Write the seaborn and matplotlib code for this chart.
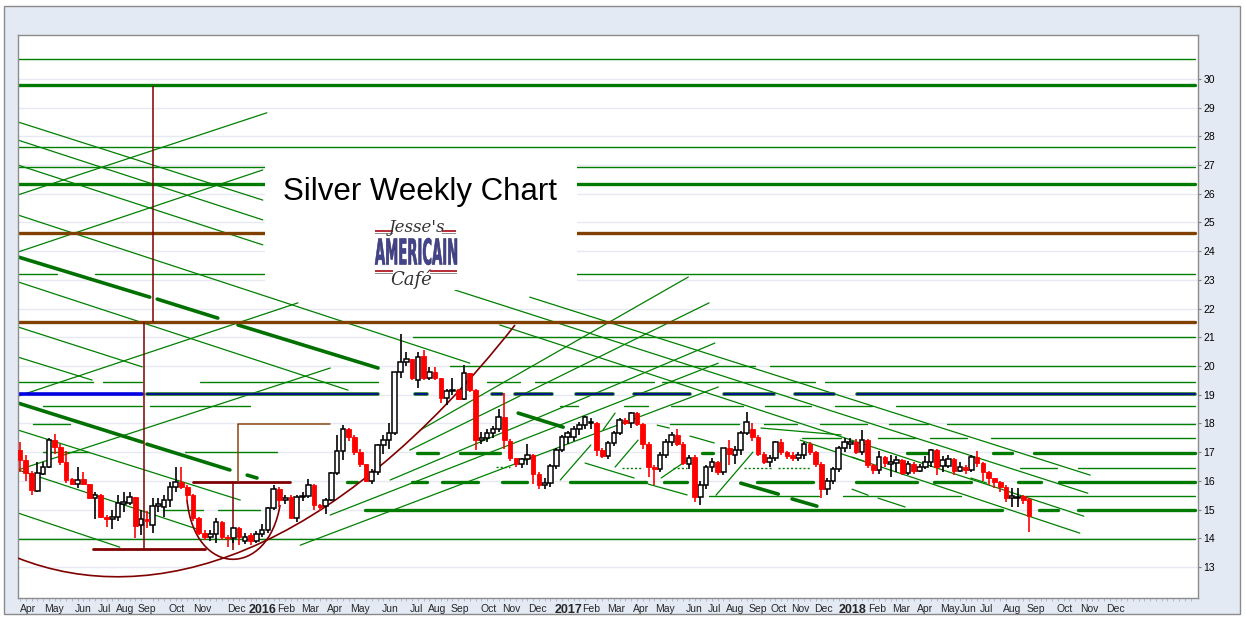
import numpy as np
import pandas as pd
import matplotlib
matplotlib.use("Agg")
import matplotlib.pyplot as plt
import seaborn as sns
from matplotlib.patches import Rectangle, PathPatch
from matplotlib.path import Path
from matplotlib.textpath import TextPath
from matplotlib.font_manager import FontProperties
from matplotlib.transforms import Affine2D

# weekly silver candles, Apr 2015 -> mid Aug 2018
opens = [
    17.07, 16.73, 16.26, 15.66, 16.24, 16.49, 17.42, 17.19, 16.67, 16.05,
    15.88, 16.05, 15.88, 15.39, 15.51, 14.75, 14.66, 14.75, 15.20, 15.22,
    15.43, 14.46, 14.66, 14.46, 15.13, 15.10, 15.33, 15.77, 15.95, 15.80,
    15.50, 14.69, 14.17, 14.05, 14.14, 14.58, 14.05, 14.00, 14.35, 13.92,
    14.10, 13.92, 14.14,
    14.28, 15.04, 15.73, 15.35, 15.44, 14.72, 15.44, 15.47, 15.85, 15.15,
    15.12, 15.33, 16.26, 17.04, 17.80, 17.53, 17.01, 16.58, 16.00, 16.32,
    17.24, 17.42, 17.65, 19.78, 20.15, 20.23, 19.51, 20.35, 19.60, 19.78,
    19.57, 18.87, 19.14, 19.16, 18.84, 19.74, 19.18, 17.42, 17.48, 17.65,
    17.79, 18.21,
    17.40, 16.78, 16.58, 16.75, 16.90, 16.23, 15.85, 15.94, 16.52, 17.09,
    17.53, 17.53, 17.79, 17.94, 18.00, 18.00, 17.07, 16.86, 17.33, 17.68,
    18.12, 18.00, 18.35, 17.98, 17.30,
    16.49, 16.43, 16.90, 17.36, 17.59, 17.30, 16.60, 16.84, 15.44, 15.85,
    16.47, 16.66, 16.31, 17.13, 16.90, 17.07, 17.68, 17.82, 17.53, 16.93,
    16.66, 16.78, 17.36, 17.00, 16.90, 16.80, 16.90, 17.30, 17.00, 16.60,
    15.73, 16.00, 16.40, 17.13,
    17.30, 17.34, 17.00, 17.42, 16.55, 16.38, 16.82, 16.60, 16.61, 16.73,
    16.29, 16.59, 16.36, 16.47, 16.65, 17.08, 16.52, 16.52, 16.75, 16.36,
    16.47, 16.38, 16.82, 16.61, 16.32, 16.09, 15.97, 15.80, 15.39, 15.40,
    15.47, 15.36,
]
highs = [
    17.36, 16.90, 16.35, 16.67, 16.67, 17.48, 17.63, 17.30, 17.05, 16.10,
    16.49, 16.32, 15.90, 15.60, 15.55, 14.80, 15.00, 15.50, 15.60, 15.62,
    15.45, 14.98, 14.95, 15.40, 15.40, 15.50, 15.97, 16.50, 16.50, 15.85,
    15.55, 14.75, 14.30, 14.30, 14.70, 14.60, 14.10, 14.40, 14.40, 14.20,
    14.20, 14.25, 14.50,
    15.10, 15.85, 15.78, 15.50, 15.50, 15.50, 15.60, 16.08, 15.90, 15.20,
    15.40, 16.30, 17.60, 17.96, 17.85, 17.60, 17.10, 16.60, 16.40, 17.30,
    17.60, 18.00, 19.80, 21.11, 20.50, 20.25, 20.50, 20.55, 19.95, 19.95,
    19.60, 19.20, 19.60, 19.20, 20.03, 19.75, 19.20, 17.70, 17.80, 17.90,
    18.50, 19.05,
    17.45, 16.80, 16.80, 17.30, 16.95, 16.30, 16.10, 16.60, 17.15, 17.60,
    17.75, 17.90, 18.05, 18.25, 18.20, 18.05, 17.15, 17.40, 17.75, 18.20,
    18.20, 18.40, 18.40, 18.00, 17.35,
    16.55, 17.00, 17.45, 17.70, 17.82, 17.35, 16.90, 16.90, 16.00, 16.55,
    16.80, 16.70, 17.15, 17.44, 17.20, 17.75, 18.41, 18.00, 17.60, 17.00,
    16.90, 17.40, 17.45, 17.05, 17.00, 17.00, 17.35, 17.35, 17.05, 16.65,
    16.10, 16.50, 17.20, 17.50,
    17.50, 17.45, 17.77, 17.45, 16.60, 17.05, 16.85, 16.90, 16.85, 16.75,
    16.70, 16.65, 16.60, 16.85, 17.10, 17.10, 16.85, 16.90, 16.80, 16.65,
    16.55, 16.90, 17.05, 16.65, 16.35, 16.10, 16.00, 15.85, 15.75, 15.75,
    15.50, 15.40,
]
lows = [
    16.32, 16.00, 15.50, 15.60, 16.20, 16.45, 16.95, 16.55, 15.92, 15.85,
    15.74, 15.85, 15.37, 14.66, 14.70, 14.38, 14.34, 14.60, 14.90, 15.15,
    14.00, 14.10, 14.35, 14.20, 14.90, 14.75, 15.10, 15.60, 15.70, 15.30,
    14.60, 14.10, 13.95, 13.90, 13.85, 13.95, 13.70, 13.85, 13.75, 13.80,
    13.75, 13.85, 14.05,
    14.20, 15.00, 15.10, 15.20, 14.70, 14.57, 15.30, 15.40, 14.98, 14.95,
    14.84, 15.30, 16.20, 16.72, 17.40, 16.90, 16.50, 15.95, 15.90, 16.20,
    16.95, 17.10, 17.60, 19.60, 20.00, 19.50, 19.22, 19.50, 19.50, 19.50,
    18.70, 18.64, 19.00, 18.80, 18.80, 19.10, 17.07, 17.30, 17.35, 17.50,
    17.70, 17.10,
    16.70, 16.50, 16.45, 16.55, 15.90, 15.70, 15.70, 15.80, 16.40, 17.00,
    17.30, 17.40, 17.60, 17.80, 17.80, 16.86, 16.80, 16.75, 17.20, 17.60,
    17.95, 17.85, 17.90, 17.10, 16.14,
    15.85, 16.30, 16.80, 17.20, 17.20, 16.55, 16.40, 15.27, 15.15, 15.70,
    16.30, 16.20, 16.20, 16.55, 16.60, 16.90, 17.60, 17.40, 16.85, 16.60,
    16.50, 16.70, 16.90, 16.75, 16.70, 16.70, 16.75, 16.90, 16.50, 15.39,
    15.50, 15.90, 16.30, 17.00,
    17.10, 16.95, 16.90, 16.45, 16.25, 16.25, 16.50, 16.15, 16.30, 16.20,
    16.20, 16.25, 16.30, 16.40, 16.50, 16.20, 16.30, 16.45, 16.20, 16.30,
    16.25, 16.30, 16.50, 16.00, 15.85, 15.75, 15.60, 15.25, 15.10, 15.10,
    15.20, 14.23,
]
closes = [
    16.73, 16.26, 15.68, 16.26, 16.49, 17.42, 17.19, 16.67, 16.03, 15.88,
    16.03, 15.88, 15.39, 15.51, 14.75, 14.66, 14.75, 15.22, 15.25, 15.43,
    14.43, 14.66, 14.60, 15.13, 15.20, 15.33, 15.77, 15.95, 15.80, 15.50,
    14.69, 14.17, 14.05, 14.14, 14.58, 14.05, 14.00, 14.35, 14.05, 14.05,
    13.92, 14.14, 14.30,
    15.04, 15.73, 15.33, 15.40, 14.72, 15.44, 15.47, 15.85, 15.15, 15.10,
    15.33, 16.26, 17.04, 17.80, 17.53, 17.01, 16.58, 16.00, 16.32, 17.24,
    17.42, 17.65, 19.78, 20.15, 20.23, 19.57, 20.32, 19.60, 19.78, 19.57,
    18.87, 19.14, 19.16, 18.84, 19.74, 19.18, 17.42, 17.48, 17.65, 17.79,
    18.21, 17.42,
    16.78, 16.58, 16.75, 16.90, 16.23, 15.85, 15.94, 16.52, 17.09, 17.53,
    17.65, 17.79, 17.94, 18.21, 18.05, 17.07, 16.86, 17.33, 17.68, 18.12,
    18.00, 18.35, 17.98, 17.30, 16.47,
    16.43, 16.90, 17.36, 17.59, 17.30, 16.63, 16.80, 15.44, 15.85, 16.47,
    16.66, 16.31, 17.13, 16.95, 17.07, 17.68, 18.06, 17.53, 16.93, 16.66,
    16.78, 17.36, 17.00, 16.87, 16.80, 16.90, 17.30, 17.00, 16.60, 15.73,
    16.00, 16.40, 17.13, 17.34,
    17.34, 17.02, 17.42, 16.55, 16.38, 16.82, 16.61, 16.67, 16.73, 16.29,
    16.59, 16.36, 16.47, 16.65, 17.08, 16.50, 16.73, 16.75, 16.36, 16.47,
    16.38, 16.82, 16.61, 16.32, 16.09, 15.97, 15.80, 15.39, 15.47, 15.45,
    15.33, 14.78,
]

# month labels along the bottom, positions in weeks from the first candle
month_labels = ["Apr", "May", "Jun", "Jul", "Aug", "Sep", "Oct", "Nov", "Dec",
                "2016", "Feb", "Mar", "Apr", "May", "Jun", "Jul", "Aug", "Sep", "Oct", "Nov", "Dec",
                "2017", "Feb", "Mar", "Apr", "May", "Jun", "Jul", "Aug", "Sep", "Oct", "Nov", "Dec",
                "2018", "Feb", "Mar", "Apr", "May", "Jun", "Jul", "Aug", "Sep", "Oct", "Nov", "Dec"]
month_pos = [1.4, 5.9, 10.9, 14.6, 18.2, 22.0, 27.1, 31.7, 37.5,
             42.1, 46.1, 50.3, 54.6, 59.0, 64.2, 68.7, 72.3, 76.3, 81.2, 85.2, 89.7,
             95.2, 99.0, 103.4, 107.7, 111.9, 116.9, 120.5, 124.0, 128.0, 131.6, 135.3, 139.4,
             144.3, 148.6, 152.8, 157.0, 161.3, 164.4, 167.7, 172.0, 176.2, 181.2, 185.4, 189.9]
price_ticks = list(range(13, 31))

# horizontal levels: (price, from week, to week)
thin_levels = [
    (30.70, -0.4, 203.8), (27.64, -0.4, 203.8), (26.93, -0.4, 203.8),
    (23.21, -0.4, 6.4), (23.21, 13.0, 203.8), (21.00, 68.2, 203.8),
    (19.99, 74.6, 127.5), (19.99, 130.1, 203.8),
    (19.43, -0.4, 12.6), (19.43, 14.4, 21.2), (19.43, 31.2, 62.1), (19.43, 81.0, 86.7),
    (19.43, 89.3, 110.0), (19.43, 111.3, 137.9), (19.43, 139.6, 203.8),
    (18.61, 4.0, 21.2), (18.61, 22.5, 39.9), (18.61, 93.7, 96.8), (18.61, 104.8, 108.9),
    (18.61, 112.9, 125.4), (18.61, 129.2, 137.2), (18.61, 141.3, 147.8), (18.61, 151.9, 203.8),
    (17.98, 2.2, 8.7), (17.98, 112.7, 124.7), (17.98, 129.0, 134.8), (17.98, 138.7, 146.9),
    (17.98, 150.7, 157.5), (17.98, 160.8, 203.8),
    (17.49, 135.6, 142.4), (17.49, 148.8, 155.2), (17.49, 157.8, 164.2), (17.49, 168.4, 203.8),
    (17.01, 4.0, 12.0), (17.01, 28.6, 44.5),
    (16.44, 173.4, 179.8), (16.44, 183.5, 203.8),
    (15.49, 119.5, 138.6), (15.49, 142.7, 163.2), (15.49, 173.4, 203.8),
    (14.97, 24.8, 31.7), (14.97, 34.3, 41.6),
    (13.97, -0.4, 203.8),
]
dotted_levels = [
    (16.50, 82.6, 85.0), (16.44, 104.4, 108.0), (16.44, 113.2, 115.7),
    (16.44, 125.6, 130.4), (16.44, 131.5, 137.2),
]
thick_levels = [
    (29.79, -0.4, 203.8), (26.34, -0.4, 203.8),
    (16.98, 68.9, 72.5), (16.98, 76.3, 83.2), (16.98, 118.3, 120.2),
    (16.98, 153.8, 157.5), (16.98, 168.7, 172.0), (16.98, 175.9, 203.8),
    (15.97, 56.7, 58.4), (15.97, 68.0, 70.6), (15.97, 73.2, 79.4), (15.97, 83.6, 87.9),
    (15.97, 95.4, 108.6), (15.97, 111.7, 115.7), (15.97, 127.8, 137.5), (15.97, 145.0, 155.6),
    (15.97, 158.5, 164.9), (15.97, 173.1, 177.1), (15.97, 180.2, 203.8),
    (14.97, 59.8, 170.3), (14.97, 176.7, 180.0), (14.97, 183.5, 203.8),
]
brown_levels = [(24.65, -0.4, 203.8), (21.53, -0.4, 203.8)]
blue_thick_levels = [(19.04, -0.4, 21.2)]
blue_levels = [
    (19.04, 22.0, 62.1), (19.04, 68.5, 70.6), (19.04, 81.9, 83.6), (19.04, 85.8, 92.3),
    (19.04, 96.4, 102.8), (19.04, 106.5, 116.2), (19.04, 122.1, 130.8), (19.04, 134.4, 141.2),
    (19.04, 145.2, 203.8),
]
darkred_levels = [(15.97, 30.0, 46.8), (13.62, 12.6, 32.1)]
sienna_levels = [(17.98, 37.8, 53.8)]

# vertical markers: (week, price from, price to, colour)
verticals = [
    (23.0, 21.53, 29.76, "#800000"),
    (21.5, 13.62, 21.53, "#800000"),
    (37.8, 15.97, 17.98, "#8b4513"),
    (36.9, 13.59, 15.97, "#800000"),
]

# trend lines: (week0, price0, week1, price1)
thin_trends = [
    (-0.35, 28.50, 42.1, 25.78), (-0.35, 27.87, 42.1, 25.09), (-0.35, 27.00, 42.1, 24.22),
    (-0.35, 25.26, 78.0, 20.10), (-0.35, 22.93, 56.9, 19.16), (-0.35, 21.36, 21.2, 19.97),
    (-0.35, 20.31, 12.5, 19.51), (-0.35, 17.77, 38.2, 15.33), (-0.35, 16.38, 31.2, 14.29),
    (-0.35, 14.88, 17.3, 13.69),
    (-0.35, 25.96, 42.8, 28.82), (-0.35, 23.97, 42.1, 26.83), (-0.35, 18.95, 48.2, 22.20),
    (-0.35, 16.38, 53.8, 19.93),
    (69.4, 17.77, 115.9, 23.10), (67.6, 17.07, 119.5, 22.20), (64.2, 16.03, 120.5, 20.80),
    (53.8, 14.81, 121.1, 20.10), (48.6, 13.76, 121.1, 19.27),
    (88.4, 22.40, 185.6, 16.20), (75.4, 22.65, 185.2, 15.57), (83.2, 21.43, 184.5, 14.77),
    (135.3, 17.42, 183.8, 14.18),
    (98.0, 16.62, 106.5, 16.10), (108.9, 15.89, 115.7, 15.51), (116.2, 17.56, 120.4, 17.32),
    (110.5, 17.94, 112.6, 17.84), (128.5, 17.84, 142.4, 17.60), (144.3, 16.83, 146.7, 16.66),
    (144.3, 15.71, 147.1, 15.50), (148.8, 15.40, 153.5, 15.09), (164.9, 16.10, 167.7, 15.92),
    (93.7, 16.03, 99.0, 17.25), (103.2, 16.48, 107.2, 17.42), (111.2, 16.10, 115.7, 16.72),
    (120.7, 15.50, 127.1, 17.00), (101.1, 17.77, 103.2, 18.36),
]
thick_trends = [
    (-0.35, 23.80, 22.5, 22.40), (23.8, 22.33, 34.3, 21.67), (37.8, 21.43, 62.1, 19.93),
    (86.4, 18.36, 94.2, 17.87), (125.0, 15.92, 131.5, 15.54), (133.9, 15.37, 138.2, 15.12),
    (-0.35, 18.71, 21.2, 17.35), (22.0, 17.28, 36.4, 16.38), (39.4, 16.20, 41.1, 16.10),
]

# rounded bottoms (cubic bezier control points, week / price)
big_cup = [(-0.35, 13.31), (22.55, 11.50), (53.76, 13.24), (85.85, 21.43)]
small_cup = [(28.96, 15.33), (30.35, 12.61), (43.0, 12.61), (45.1, 15.16)]

sns.set_style("white")
plt.rcParams["font.family"] = ["Liberation Sans", "DejaVu Sans"]

W, H = 1246, 620
fig = plt.figure(figsize=(W / 100, H / 100), dpi=100)
fig.patch.set_facecolor("white")


def fx(x):
    return x / W


def fy(y):
    return 1 - y / H


# outer panel
fig.add_artist(Rectangle((fx(4), fy(614)), fx(1236), (614 - 6) / H, transform=fig.transFigure,
                         facecolor="#e4eaf4", edgecolor="#8a8a8a", lw=1, zorder=-5))

ax = fig.add_axes([fx(18), fy(598), 1180 / W, 563 / H])
ax.set_facecolor("white")


def draw_segments(segs, **kw):
    rows = []
    for k, (x0, y0, x1, y1) in enumerate(segs):
        rows.append((k, x0, y0))
        rows.append((k, x1, y1))
    df = pd.DataFrame(rows, columns=["seg", "x", "y"])
    sns.lineplot(data=df, x="x", y="y", units="seg", estimator=None, sort=False,
                 ax=ax, legend=False, **kw)


def levels(lv):
    return [(a, p, b, p) for p, a, b in lv]


green = "#008000"
draw_segments(thin_trends, color=green, lw=0.9, zorder=2)
draw_segments(levels(thin_levels), color=green, lw=1.0, zorder=2)
draw_segments(levels(dotted_levels), color=green, lw=1.0, linestyle=(0, (1.5, 1.5)), zorder=2)
draw_segments(thick_trends, color="#007000", lw=2.6, zorder=2)
draw_segments(levels(thick_levels), color="#007a00", lw=2.4, zorder=2)
draw_segments(levels(brown_levels), color="#804000", lw=2.4, zorder=2)
draw_segments(levels(blue_levels), color="#1e7a1e", lw=2.6, zorder=2)
draw_segments(levels(blue_levels), color="#0000a0", lw=1.2, zorder=2)
draw_segments(levels(blue_thick_levels), color="#0000e0", lw=2.6, zorder=2)
draw_segments(levels(darkred_levels), color="#800000", lw=2.0, zorder=3)
draw_segments(levels(sienna_levels), color="#8b4513", lw=1.1, zorder=3)
for xv, p0, p1, c in verticals:
    ax.vlines(xv, p0, p1, color=c, lw=1.1, zorder=3)

for pts in (big_cup, small_cup):
    path = Path(pts, [Path.MOVETO, Path.CURVE4, Path.CURVE4, Path.CURVE4])
    ax.add_patch(PathPatch(path, facecolor="none", edgecolor="#800000", lw=1.2, zorder=4))

# candles
o = np.array(opens)
h = np.array(highs)
l = np.array(lows)
c = np.array(closes)
x = np.arange(len(o))
up = c >= o
body_lo = np.minimum(o, c)
body_h = np.maximum(np.abs(c - o), 0.03)

ax.vlines(x[up], l[up], h[up], color="black", lw=1.2, zorder=5)
ax.vlines(x[~up], l[~up], h[~up], color="#ff0000", lw=1.2, zorder=5)
ax.bar(x[up], body_h[up], bottom=body_lo[up], width=0.8, facecolor="white",
       edgecolor="black", lw=1.1, zorder=6)
ax.bar(x[~up], body_h[~up], bottom=body_lo[~up], width=0.8, facecolor="#ff0000",
       edgecolor="#ff0000", lw=0.6, zorder=6)

ax.set_xlim(-0.35, 204.3)
ax.set_ylim(11.92, 31.53)
ax.set_xlabel("")
ax.set_ylabel("")

ax.yaxis.tick_right()
ax.set_yticks(price_ticks)
ax.set_yticklabels([str(t) for t in price_ticks])
ax.tick_params(axis="y", which="both", left=False, right=True, length=2, pad=2,
               labelsize=7.5, colors="black", color="#808080")
ax.set_xticks(month_pos)
ax.set_xticklabels(month_labels)
ax.set_xticks(np.arange(0, 204, 1), minor=True)
ax.tick_params(axis="x", which="major", length=3, pad=1.5, labelsize=7.5, color="#8090a8")
ax.tick_params(axis="x", which="minor", length=2, color="#a8b0c4", width=0.6, bottom=True)
for lab in ax.get_xticklabels():
    if lab.get_text().isdigit():
        lab.set_fontweight("bold")
        lab.set_fontsize(9)
ax.grid(axis="y", color="#e6e8f2", lw=1)
ax.set_axisbelow(True)
for s in ax.spines.values():
    s.set_color("#8c8c8c")
    s.set_linewidth(1)

# title box and logo
fig.add_artist(Rectangle((fx(265), fy(290)), fx(312), 135 / H, transform=fig.transFigure,
                         facecolor="white", edgecolor="none", zorder=1))
fig.text(fx(283), fy(200), "Silver Weekly Chart", fontsize=22.5, color="black",
         va="baseline", ha="left", zorder=2)
fig.text(fx(417), fy(228), "Jesse's", fontsize=12, family="DejaVu Serif", style="italic",
         color="#333333", ha="center", va="center", zorder=2)
fig.text(fx(411), fy(279), "Café", fontsize=13, family="DejaVu Serif", style="italic",
         color="#333333", ha="center", va="center", zorder=2)

tp = TextPath((0, 0), "AMERICAIN", size=1, prop=FontProperties(family="DejaVu Sans", weight="bold"))
ext = tp.get_extents()
tr = Affine2D().translate(-ext.x0, -ext.y0).scale(82 / ext.width, 27 / ext.height).translate(375, H - 265)
fig.add_artist(PathPatch(tp, transform=tr, facecolor="#44448c", edgecolor="#2c2c66", lw=0.4, zorder=2))
for x0, x1, y0 in [(375, 393, 230), (442, 456, 230), (375, 393, 270), (430, 457, 270)]:
    fig.add_artist(Rectangle((fx(x0), fy(y0 + 2)), fx(x1 - x0), 2 / H, transform=fig.transFigure,
                             facecolor="#b8323a", edgecolor="none", zorder=2))
    fig.add_artist(Rectangle((fx(x0), fy(y0 + 4)), fx(x1 - x0), 1.2 / H, transform=fig.transFigure,
                             facecolor="#909090", edgecolor="none", zorder=2))

fig.savefig("out.png", dpi=100)
